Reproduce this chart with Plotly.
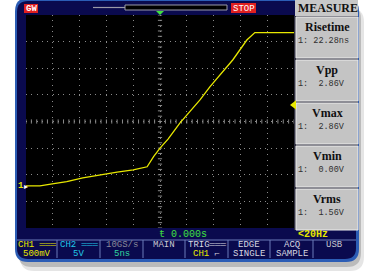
import plotly.graph_objects as go

W, H = 367, 273
def px(x): return x / W
def py(y): return 1 - y / H

# ---------------- data ----------------
time_ns = [-25.0, -22.4, -20.1, -17.4, -14.4, -11.2, -8.0, -5.0, -2.4,
           -1.2, 0.0, 1.5, 3.7, 5.6, 7.5, 9.3, 11.2, 13.6, 16.2, 17.7, 25.0]
ch1_volts = [0.00, 0.00, 0.04, 0.08, 0.15, 0.21, 0.26, 0.30, 0.36,
             0.55, 0.71, 0.88, 1.18, 1.40, 1.62, 1.86, 2.09, 2.37, 2.74, 2.88, 2.88]

ns_per_div = 5
volts_per_div = 0.5
ch1_ground_div = -2.42
trig_level_v = 1.52
h_divs, v_divs = 10, 8

measure_names = ["Risetime", "Vpp", "Vmax", "Vmin", "Vrms"]
measure_values = ["1: 22.28ns", "1:  2.86V", "1:  2.86V", "1:  0.00V", "1:  1.56V"]

menu_top = ["CH1 ═══", "CH2 ═══", "10GS/s", "MAIN", "TRIG═══", "EDGE", "ACQ", "USB"]
menu_bottom = ["500mV", "5V", "5ns", "", "<span style='color:#e8e800'>CH1</span> ⌐", "SINGLE", "SAMPLE", ""]
menu_top_colors = ["#e8e800", "#20c8e8", "#8a8a9a", "#c8c8d0", "#d8d8e0", "#d8d8e0", "#d8d8e0", "#c8c8d0"]
menu_bottom_colors = ["#e8e800", "#20c8e8", "#30d8a0", "#d8d8e0", "#d8d8e0", "#d8d8e0", "#d8d8e0", "#d8d8e0"]

# ---------------- scales ----------------
center_v = -ch1_ground_div * volts_per_div
yr = [center_v - v_divs / 2 * volts_per_div, center_v + v_divs / 2 * volts_per_div]
xr = [-h_divs / 2 * ns_per_div, h_divs / 2 * ns_per_div]

NAVY = "#0a0a4e"
shapes = []
annotations = []

def rrect(x0, y0, x1, y1, r, fill, line=None, lw=0):
    p = (f"M {px(x0+r)},{py(y0)} L {px(x1-r)},{py(y0)} Q {px(x1)},{py(y0)} {px(x1)},{py(y0+r)} "
         f"L {px(x1)},{py(y1-r)} Q {px(x1)},{py(y1)} {px(x1-r)},{py(y1)} "
         f"L {px(x0+r)},{py(y1)} Q {px(x0)},{py(y1)} {px(x0)},{py(y1-r)} "
         f"L {px(x0)},{py(y0+r)} Q {px(x0)},{py(y0)} {px(x0+r)},{py(y0)} Z")
    shapes.append(dict(type="path", xref="paper", yref="paper", path=p, fillcolor=fill,
                       line=dict(color=line or fill, width=lw), layer="below"))

def rect(x0, y0, x1, y1, fill, line=None, lw=0, layer="below"):
    shapes.append(dict(type="rect", xref="paper", yref="paper", x0=px(x0), x1=px(x1),
                       y0=py(y1), y1=py(y0), fillcolor=fill,
                       line=dict(color=line or fill, width=lw), layer=layer))

def hline(x0, x1, y, color, w=1, layer="below"):
    shapes.append(dict(type="line", xref="paper", yref="paper", x0=px(x0), x1=px(x1),
                       y0=py(y), y1=py(y), line=dict(color=color, width=w), layer=layer))

def vline(x, y0, y1, color, w=1, layer="below"):
    shapes.append(dict(type="line", xref="paper", yref="paper", x0=px(x), x1=px(x),
                       y0=py(y0), y1=py(y1), line=dict(color=color, width=w), layer=layer))

def text(x, y, s, color, size, family="Liberation Mono", xa="left", ya="middle"):
    annotations.append(dict(x=px(x), y=py(y), xref="paper", yref="paper", text=s, showarrow=False,
                            xanchor=xa, yanchor=ya, borderpad=0,
                            font=dict(color=color, size=size, family=family)))

# shadow
rrect(20, 8, 364, 271, 14, "rgba(0,0,0,0.10)")
rrect(18, 5, 361, 267, 14, "rgba(0,0,0,0.18)")
# frame
rrect(15, -2, 359, 262, 13, "#2c5db5")
rrect(17, 1, 356, 259, 11, NAVY)
# plot screen (black)
rect(26, 15, 294, 228, "#000000")

# top bar items
rect(24, 4, 38, 13, "#e02020")
text(31, 8.7, "<b>GW</b>", "#ffffff", 9, xa="center")
hline(93, 125, 7.5, "#9a9aa8", 1.2)
rect(125, 5, 227, 10, "#000000", "#9a9aa8", 1)
rect(231, 3, 256, 13, "#e02020")
text(243.5, 8.5, "STOP", "#ffffff", 9, xa="center")

# measure panel
rect(295, 0, 358, 16, "#c8c8c8")
text(297, 8, "<b>MEASURE</b>", "#101010", 12, family="Liberation Serif")
rect(294, 16, 358, 230, "#303040")
box_tops = [17, 60, 103, 146, 189]
for i, (nm, val) in enumerate(zip(measure_names, measure_values)):
    t = box_tops[i]
    rect(296, t, 358, t + 41, "#c4c4c4", "#ececec", 1)
    text(327, t + 10, f"<b>{nm}</b>", "#101010", 12, family="Liberation Serif", xa="center")
    text(297, t + 24, val, "#303030", 8.5)

# status row
text(158, 234, "ŧ 0.000s", "#40e040", 10)
text(297, 234, "<b>&lt;20Hz</b>", "#e8e800", 10)

# bottom menu
hline(17, 356, 240, "#6a7ab8", 1)
cell_edges = [17, 57, 100, 143, 185, 228, 270, 313, 356]
for e in cell_edges[1:-1]:
    vline(e, 240, 258, "#6a7ab8", 1)
for i in range(8):
    cx = (cell_edges[i] + cell_edges[i + 1]) / 2
    text(cx, 244.5, menu_top[i], menu_top_colors[i], 9, xa="center")
    if menu_bottom[i]:
        text(cx, 254, menu_bottom[i], menu_bottom_colors[i], 9, xa="center")

# ground marker
text(16.5, 186, "<b>1</b>", "#e8e800", 9)
annotations.append(dict(x=px(22), y=0, xref="paper", yref="y", text="▸", showarrow=False,
                        xanchor="left", yanchor="middle", font=dict(color="#ffffff", size=8)))

# trigger position marker (top, green)
shapes.append(dict(type="path", xref="paper", yref="paper",
                   path=f"M {px(156)},{py(11)} L {px(164)},{py(11)} L {px(160)},{py(15)} Z",
                   fillcolor="#40e040", line=dict(width=0), layer="above"))

fig = go.Figure()

# center-line tick marks
n_v = v_divs * 5
n_h = h_divs * 5
fig.add_trace(go.Scatter(
    x=[0] * (n_v + 1),
    y=[yr[0] + k * volts_per_div / 5 for k in range(n_v + 1)],
    mode="markers", marker=dict(symbol="line-ew", size=3, line=dict(color="#8a8a8a", width=1)),
    hoverinfo="skip", showlegend=False))
fig.add_trace(go.Scatter(
    x=[xr[0] + k * ns_per_div / 5 for k in range(n_h + 1)],
    y=[center_v] * (n_h + 1),
    mode="markers", marker=dict(symbol="line-ns", size=3, line=dict(color="#8a8a8a", width=1)),
    hoverinfo="skip", showlegend=False))

# waveform
fig.add_trace(go.Scatter(x=time_ns, y=ch1_volts, mode="lines",
                         line=dict(color="#e8e800", width=1.3), showlegend=False))
# trigger level marker
fig.add_trace(go.Scatter(x=[xr[1]], y=[trig_level_v], mode="markers",
                         marker=dict(symbol="triangle-left", size=8, color="#e8e800"),
                         cliponaxis=False, showlegend=False))

fig.update_layout(
    width=W, height=H, margin=dict(l=0, r=0, t=0, b=0),
    paper_bgcolor="#ffffff", plot_bgcolor="#000000",
    shapes=shapes, annotations=annotations, showlegend=False,
    xaxis=dict(domain=[px(26), px(294)], range=xr, tick0=xr[0], dtick=ns_per_div,
               showgrid=True, gridcolor="#8a8a8a", griddash="1px,4.36px", gridwidth=1,
               zeroline=False, showticklabels=False, ticks="", fixedrange=True),
    yaxis=dict(domain=[py(228), py(15)], range=yr, tick0=yr[0], dtick=volts_per_div,
               showgrid=True, gridcolor="#8a8a8a", griddash="1px,4.32px", gridwidth=1,
               zeroline=False, showticklabels=False, ticks="", fixedrange=True),
)

fig.write_html("out.html", config={"displayModeBar": False},
               post_script="document.body.style.margin='0';document.body.style.overflow='hidden';")
